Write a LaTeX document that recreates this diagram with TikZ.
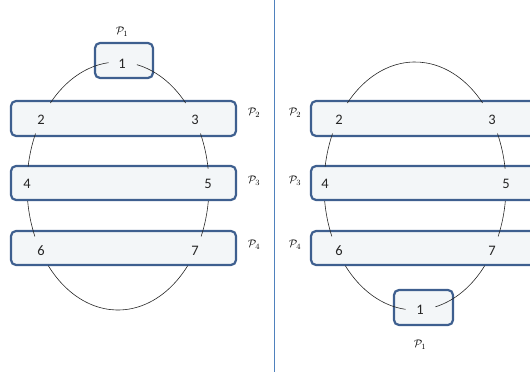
\documentclass[tikz,border=0pt]{standalone}
\usepackage{fontspec}
\setmainfont{Carlito}
\definecolor{boxblue}{HTML}{3E5F8F}
\definecolor{boxfill}{HTML}{F3F6F8}
\definecolor{divblue}{HTML}{4F81BD}
\begin{document}
\begin{tikzpicture}[x=1pt,y=1pt,
  part/.style={draw=boxblue,line width=2.2pt,rounded corners=5pt,fill=boxfill},
  num/.style={font=\fontsize{14.5}{16}\selectfont,text=black!85,inner sep=0pt},
  plab/.style={font=\fontsize{11}{13}\selectfont,inner sep=0pt},
  arcline/.style={draw=black!85,line width=0.6pt}]
\useasboundingbox (0,0) rectangle (530,372);
\clip (0,0) rectangle (530,372);
% divider
\draw[divblue,line width=0.8pt] (274,0) -- (274,372);
% ---------- left ----------
\path[part] (95,294) rectangle (153,329);
\path[part] (11,236) rectangle (236,271);
\path[part] (11,172) rectangle (236,206);
\path[part] (11,107) rectangle (236,141);
\node[num] (l1) at (122,308) {1};
\node[num] (l2) at (41,252) {2};
\node[num] (l3) at (195,252) {3};
\node[num] (l4) at (27,188) {4};
\node[num] (l5) at (208,188) {5};
\node[num] (l6) at (41,121) {6};
\node[num] (l7) at (195,121) {7};
\node[plab] (lp1) at (122,340) {$\mathcal{P}_1$};
\node[plab] (lp2) at (254,259) {$\mathcal{P}_2$};
\node[plab] (lp3) at (254,191) {$\mathcal{P}_3$};
\node[plab] (lp4) at (254,127) {$\mathcal{P}_4$};
\coordinate (cL) at (118,186);
\foreach \a/\b in {96/138,155/171,187/204,220/320,336/353,8/25,42/78}{
  \draw[arcline] ([shift={(\a:91pt and 124pt)}]cL) arc[start angle=\a,end angle=\b,x radius=91pt,y radius=124pt];
}
% ---------- right ----------
\path[part] (311,236) rectangle (560,271);
\path[part] (311,172) rectangle (560,206);
\path[part] (311,107) rectangle (560,141);
\path[part] (394,47) rectangle (453,82);
\node[num] (r1) at (420,62) {1};
\node[num] (r2) at (339,252) {2};
\node[num] (r3) at (492,252) {3};
\node[num] (r4) at (325,188) {4};
\node[num] (r5) at (506,188) {5};
\node[num] (r6) at (339,121) {6};
\node[num] (r7) at (492,121) {7};
\node[plab] (rp1) at (420,27) {$\mathcal{P}_1$};
\node[plab] (rp2) at (295,259) {$\mathcal{P}_2$};
\node[plab] (rp3) at (295,191) {$\mathcal{P}_3$};
\node[plab] (rp4) at (295,127) {$\mathcal{P}_4$};
\coordinate (cR) at (415,186);
\foreach \a/\b in {42/138,155/171,187/204,220/264,283/320,336/353,8/25}{
  \draw[arcline] ([shift={(\a:91pt and 124pt)}]cR) arc[start angle=\a,end angle=\b,x radius=91pt,y radius=124pt];
}
\end{tikzpicture}
\end{document}
